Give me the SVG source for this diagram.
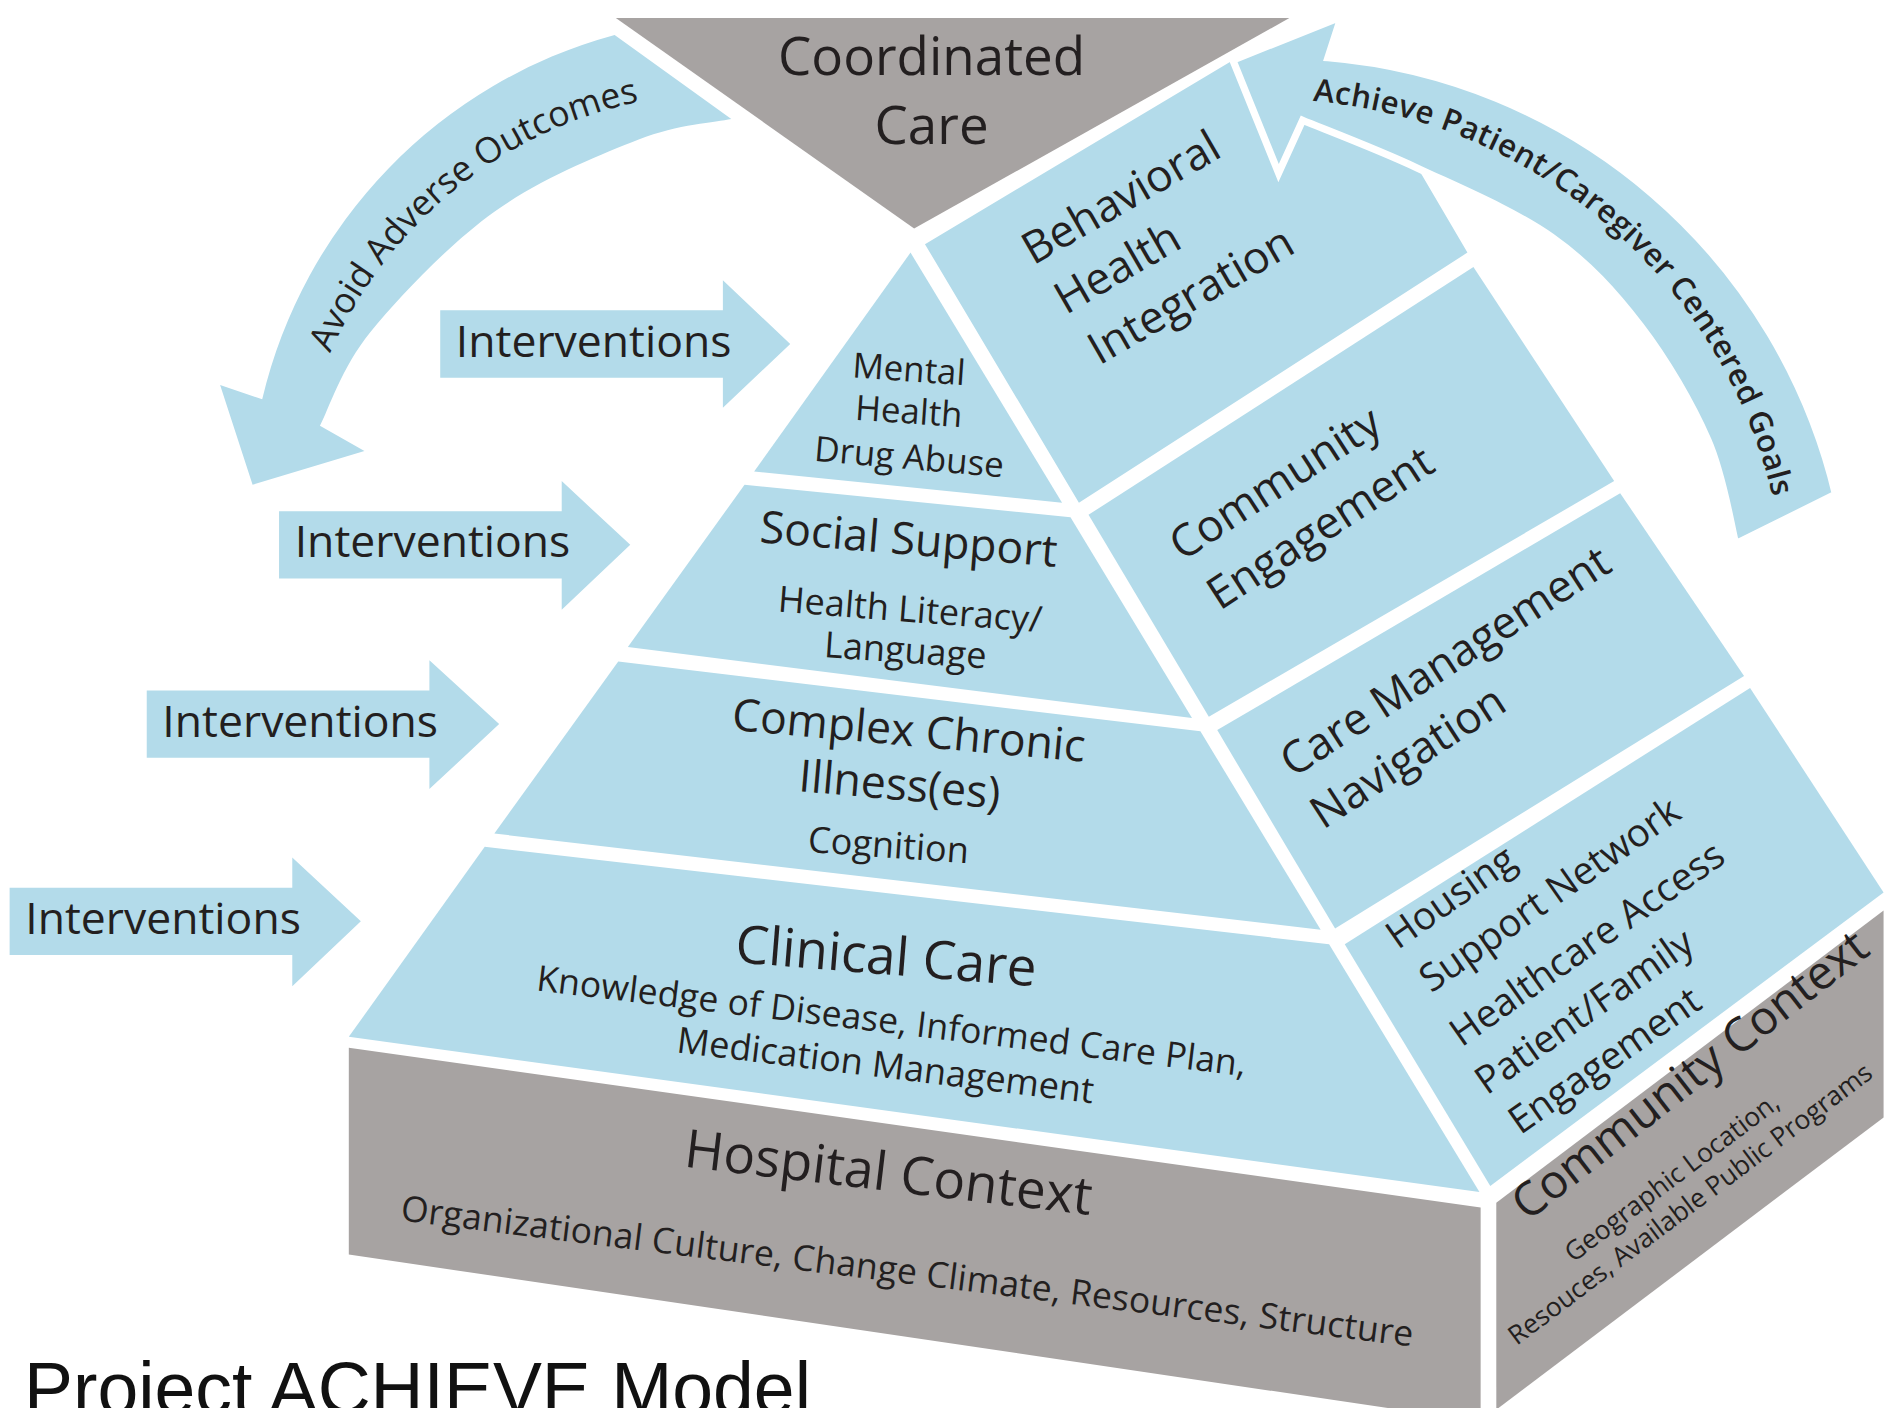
<svg xmlns="http://www.w3.org/2000/svg" width="1886" height="1408" viewBox="0 0 1886 1408">
<defs>
<style>
.blue{fill:#b3dbea}
.gray{fill:#a7a3a2}
.t{font-family:"Open Sans","Noto Sans",sans-serif;fill:#231f20}
.title{font-family:"Liberation Sans",Arial,sans-serif;fill:#111}
</style>
<path id="leftTextPath" d="M262.4,324.5 A370,370 0 0 1 377.8,158 A358,358 0 0 1 571.1,78.8"/>
<path id="rightTextPath" d="M1064,82.4 A435,435 0 0 1 1340.9,191.1 A426,426 0 0 1 1484.2,484.2"/>
</defs>
<rect width="1886" height="1408" fill="#ffffff"/>
<g transform="scale(1.2028)">

<g id="coordinated-care">
<polygon class="gray" points="512,15 1072,15 760,190"/>
<text class="t" x="774.5" y="62" font-size="44" text-anchor="middle">Coordinated</text>
<text class="t" x="774.5" y="119.5" font-size="44" text-anchor="middle">Care</text>
</g>

<g id="mental-health">
<polygon class="blue" points="757,210 627,392 883,418"/>
<text class="t" font-size="29" text-anchor="middle" transform="translate(755,317) rotate(4)">Mental</text>
<text class="t" font-size="29" text-anchor="middle" transform="translate(755,352) rotate(4)">Health</text>
<text class="t" font-size="29" text-anchor="middle" transform="translate(755,390) rotate(5)">Drug Abuse</text>
</g>

<g id="social-support">
<polygon class="blue" points="619,403 890,430 991,597 522,538"/>
<text class="t" font-size="37" text-anchor="middle" transform="translate(754.5,461) rotate(4.7)">Social Support</text>
<text class="t" font-size="30" text-anchor="middle" transform="translate(756,517) rotate(4.5)">Health Literacy/</text>
<text class="t" font-size="30" text-anchor="middle" transform="translate(752,551) rotate(4)">Language</text>
</g>

<g id="complex-chronic">
<polygon class="blue" points="514,550 998,608 1098,773 411,693"/>
<text class="t" font-size="37" text-anchor="middle" transform="translate(754.5,620) rotate(5.2)">Complex Chronic</text>
<text class="t" font-size="37" text-anchor="middle" transform="translate(747,665) rotate(5)">Illness(es)</text>
<text class="t" font-size="30" text-anchor="middle" transform="translate(738,713) rotate(4)">Cognition</text>
</g>

<g id="clinical-care">
<polygon class="blue" points="403,704 1105,785 1230,991 290,862"/>
<text class="t" font-size="44" text-anchor="middle" transform="translate(735.5,810) rotate(4.6)">Clinical Care</text>
<text class="t" font-size="29.5" text-anchor="middle" textLength="594" transform="translate(740,859) rotate(6.9)">Knowledge of Disease, Informed Care Plan,</text>
<text class="t" font-size="30" text-anchor="middle" transform="translate(735,896) rotate(7)">Medication Management</text>
</g>

<g id="hospital-context">
<polygon class="gray" points="290,871 1231,1004 1231,1182 290,1043"/>
<text class="t" font-size="44" text-anchor="middle" transform="translate(737,990) rotate(6.8)">Hospital Context</text>
<text class="t" font-size="29.5" text-anchor="middle" textLength="848" transform="translate(753,1067) rotate(7.1)">Organizational Culture, Change Climate, Resources, Structure</text>
</g>

<g id="behavioral-health">
<polygon class="blue" points="769,203 1025,50 1095,55 1175,120 1179,140 1220,210 897,418"/>
</g>

<g id="community-engagement">
<polygon class="blue" points="905,428 1225,222 1342,400 1005,596"/>
<text class="t" font-size="37" transform="translate(983,467) rotate(-33)">Community</text>
<text class="t" font-size="37" transform="translate(1014,508) rotate(-33)">Engagement</text>
</g>

<g id="care-management">
<polygon class="blue" points="1012,607 1347,410 1450,562 1110,772"/>
<text class="t" font-size="37" transform="translate(1075,647) rotate(-33)">Care Management</text>
<text class="t" font-size="37" transform="translate(1100,690) rotate(-33)">Navigation</text>
</g>

<g id="housing">
<polygon class="blue" points="1118,785 1455,572 1566,742 1239,986"/>
<text class="t" font-size="32" transform="translate(1162,790) rotate(-35)">Housing</text>
<text class="t" font-size="32" transform="translate(1190,826) rotate(-35)">Support Network</text>
<text class="t" font-size="32" transform="translate(1215,871) rotate(-35)">Healthcare Access</text>
<text class="t" font-size="32" transform="translate(1236,911) rotate(-35)">Patient/Family</text>
<text class="t" font-size="32" transform="translate(1264,944) rotate(-35)">Engagement</text>
</g>

<g id="community-context">
<polygon class="gray" points="1244,1000 1566,757 1566,929 1244,1172"/>
<text class="t" font-size="39" transform="translate(1270,1016) rotate(-38)">Community Context</text>
<text class="t" font-size="22" transform="translate(1308,1050) rotate(-37)">Geographic Location,</text>
<text class="t" font-size="22" transform="translate(1261,1119) rotate(-37)">Resouces, Available Public Programs</text>
</g>

<g id="connectors">
<g id="achieve-arrow">
<path class="blue" stroke="#ffffff" stroke-width="6" stroke-linejoin="miter" d="M1526,411 A475,475 0 0 0 1104,48 L1115,14 L1025,50 L1063,144 L1083,100 C1099,106.7 1144.5,123.8 1179,140 C1213.5,156.2 1259.2,175.2 1290,197 C1320.8,218.8 1342.3,242.8 1364,271 C1385.7,299.2 1406.8,335.8 1420,366 C1433.2,396.2 1439.2,437.7 1443,452 Z"/>
<text class="t" font-size="26" font-weight="600"><textPath href="#rightTextPath" startOffset="27.5" textLength="539">Achieve Patient/Caregiver Centered Goals</textPath></text>
</g>
<g id="avoid-arrow">
<path class="blue" d="M511,29 A412,412 0 0 0 218,332 L183,320 L210,403 L303,375 L266,354 C273,341 283.8,305.7 308,276 C332.2,246.3 373.8,202.7 411,176 C448.2,149.3 498.2,128.8 531,116 C563.8,103.2 595.2,101.8 608,99 Z"/>
<text class="t" font-size="29.5"><textPath href="#leftTextPath" startOffset="33" textLength="344">Avoid Adverse Outcomes</textPath></text>
</g>
<g id="interventions-1">
<polygon class="blue" points="366,258 601,258 601,233 657,286 601,339 601,314 366,314"/>
<text class="t" x="379" y="296.5" font-size="37">Interventions</text>
</g>
<g id="interventions-2">
<polygon class="blue" points="232,425 467,425 467,400 524,453 467,507 467,481 232,481"/>
<text class="t" x="245" y="463.5" font-size="37">Interventions</text>
</g>
<g id="interventions-3">
<polygon class="blue" points="122,574 357,574 357,549 415,602 357,656 357,630 122,630"/>
<text class="t" x="135" y="612.5" font-size="37">Interventions</text>
</g>
<g id="interventions-4">
<polygon class="blue" points="8,738 243,738 243,713 300,766 243,820 243,794 8,794"/>
<text class="t" x="21" y="776.5" font-size="37">Interventions</text>
</g>
</g>

<g id="behavioral-health-text">
<text class="t" font-size="37" transform="translate(859,221) rotate(-30)">Behavioral</text>
<text class="t" font-size="37" transform="translate(886,262) rotate(-30)">Health</text>
<text class="t" font-size="37" transform="translate(914,304) rotate(-30)">Integration</text>
</g>

<text class="title" x="20" y="1175.6" font-size="61">Project ACHIEVE Model</text>
</g>
</svg>
